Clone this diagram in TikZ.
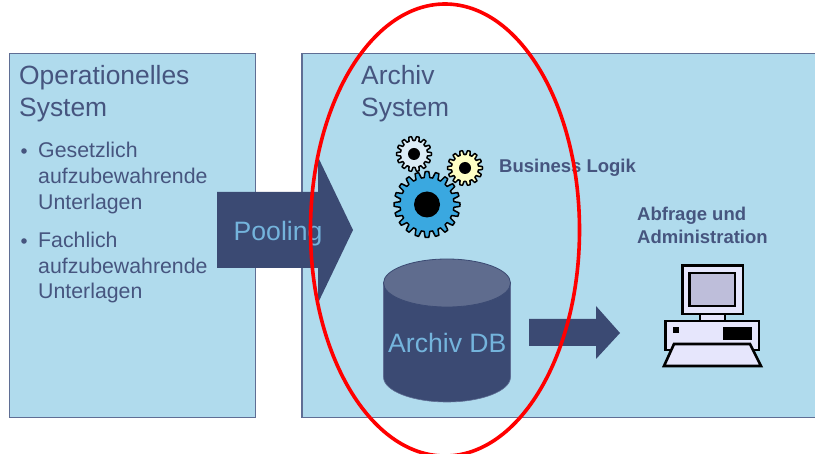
\documentclass[tikz,border=0pt]{standalone}
\usepackage{fontspec}
\setmainfont{Liberation Sans}
\definecolor{boxfill}{HTML}{B0DBED}
\definecolor{boxline}{HTML}{5F6E94}
\definecolor{navy}{HTML}{3B4A73}
\definecolor{textnavy}{HTML}{46557F}
\definecolor{dbtop}{HTML}{5F6C8E}
\definecolor{lblue}{HTML}{74B4DC}
\definecolor{gearblue}{HTML}{3AA8E0}
\definecolor{gearpale}{HTML}{DCECF6}
\definecolor{gearyellow}{HTML}{FFFFC4}
\definecolor{pcfill}{HTML}{E6E6FC}
\definecolor{pcscreen}{HTML}{BEBEDA}
\definecolor{ringred}{HTML}{FF0000}
\newcommand{\fsz}[1]{\fontsize{#1pt}{#1pt}\selectfont}
\newcommand{\geartooth}[7]{% x,y,outer,root,teeth,hole,fill
  \draw[gearline,fill=#7] plot[samples=361,domain=0:360]
    ({#1+(#4+(#3-#4)*(0.5+0.5*max(-1,min(1,2.2*cos(#5*\x)))))*cos(\x)},
     {#2+(#4+(#3-#4)*(0.5+0.5*max(-1,min(1,2.2*cos(#5*\x)))))*sin(\x)}) -- cycle;
  \fill[black] (#1,#2) circle (#6);
}
\tikzset{
  x=1pt,y=-1pt,
  panel/.style={draw=boxline,line width=1.3pt,fill=boxfill},
  blockarrow/.style={fill=navy,draw=none},
  title/.style={anchor=base west,inner sep=0pt,text=textnavy,font=\fsz{26.4},align=left},
  listtext/.style={anchor=base west,inner sep=0pt,text=textnavy,font=\fsz{21.3}},
  boldlabel/.style={anchor=base west,inner sep=0pt,text=textnavy,font=\fsz{18.5}\bfseries},
  inlabel/.style={anchor=base west,inner sep=0pt,text=lblue,font=\fsz{26.6}},
  gearline/.style={draw=black,line width=1.5pt,line join=round},
  pc/.style={draw=black,line width=2.6pt,fill=pcfill,line join=miter},
}
\begin{document}
\begin{tikzpicture}
\useasboundingbox (0,0) rectangle (815,454);
\fill[white] (0,0) rectangle (815,454);
% panels
\draw[panel] (9.5,53.5) rectangle (255.5,417.5);
\draw[panel] (302,53.5) rectangle (820,417.5);
% titles
\node[title] (t1a) at (19,84.5) {Operationelles};
\node[title] (t1b) at (19,116.5) {System};
\node[title] (t2a) at (361,84.5) {Archiv};
\node[title] (t2b) at (361,116.5) {System};
% bullets
\fill[textnavy] (24,151) circle (2.8);
\node[listtext] (l1) at (38,157.5) {Gesetzlich};
\node[listtext] (l2) at (38,183.5) {aufzubewahrende};
\node[listtext] (l3) at (38,209.5) {Unterlagen};
\fill[textnavy] (24,241) circle (2.8);
\node[listtext] (l4) at (38,247.5) {Fachlich};
\node[listtext] (l5) at (38,273.5) {aufzubewahrende};
\node[listtext] (l6) at (38,298.5) {Unterlagen};
% pooling arrow
\fill[blockarrow] (217,192) -- (318,192) -- (318,157) -- (353,230) -- (318,303) -- (318,268) -- (217,268) -- cycle;
\node[inlabel] (pool) at (233.5,240.5) {Pooling};
% gears
\geartooth{427}{204.5}{33}{27}{20}{13}{gearblue}
\geartooth{414}{154}{17.5}{13.5}{14}{6}{gearpale}
\geartooth{465}{168}{17.5}{13.5}{14}{6}{gearyellow}
\node[boldlabel] (biz) at (499,173) {Business Logik};
% cylinder
\fill[navy,draw=boxline,line width=0.6pt] (383.5,283) -- (383.5,377) arc[start angle=180,end angle=360,x radius=63.5,y radius=-25] -- (510.5,283) -- cycle;
\fill[dbtop,draw=navy,line width=0.8pt] (447,283) ellipse[x radius=63.5,y radius=24];
\node[inlabel] (db) at (388,352.5) {Archiv DB};
% second arrow
\fill[blockarrow] (529,319) -- (596,319) -- (596,306) -- (620,333) -- (596,359) -- (596,346) -- (529,346) -- cycle;
% admin label
\node[boldlabel] (ab1) at (637,221) {Abfrage und};
\node[boldlabel] (ab2) at (637,244) {Administration};
% computer
\draw[pc] (700,314) rectangle (725,321);
\draw[pc] (682.5,265.5) rectangle (743,314);
\draw[pc,fill=pcscreen] (689.5,273) rectangle (735,306);
\draw[pc] (665.5,321) rectangle (759,350);
\fill[black] (673,327) rectangle (679,333);
\fill[black] (723,327) rectangle (752,340);
\draw[pc] (674,344) -- (750,344) -- (761,366) -- (664,366) -- cycle;
% red ring
\draw[ringred,line width=3.6pt] (445,230) ellipse[x radius=134.5,y radius=226];
\end{tikzpicture}
\end{document}
